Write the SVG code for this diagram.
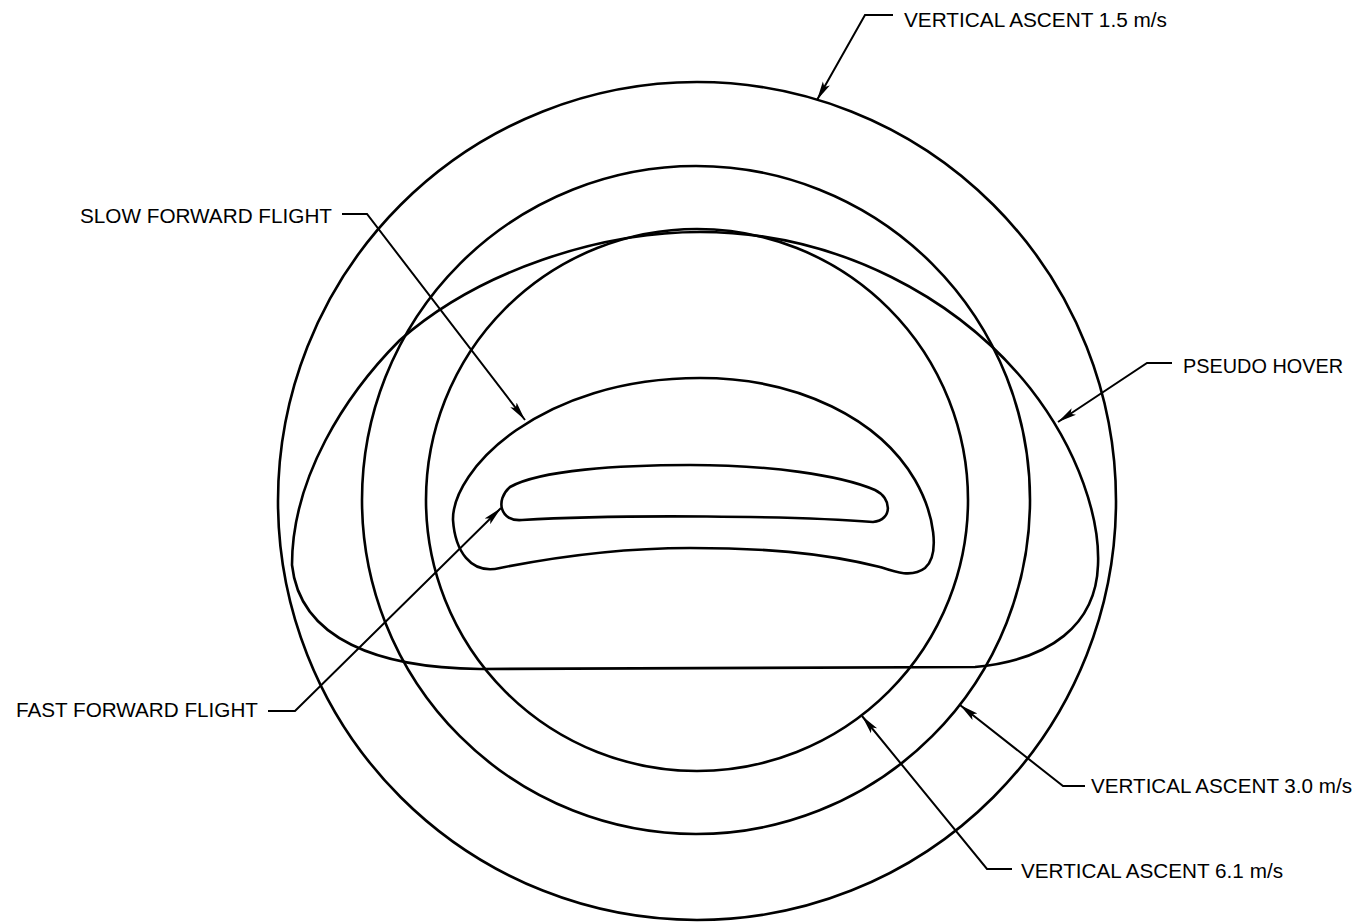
<svg xmlns="http://www.w3.org/2000/svg" width="1369" height="922" viewBox="0 0 1369 922">
<style>
.shape{fill:none;stroke:#000;stroke-width:2.6}
.lead{fill:none;stroke:#000;stroke-width:2}
.lbl{font-family:"Liberation Sans",Arial,sans-serif;font-size:20.5px;fill:#000}
</style>
<defs>
<marker id="ah" markerWidth="20" markerHeight="10" refX="19" refY="5" orient="auto" markerUnits="userSpaceOnUse">
<path d="M0,1 L19,5 L0,9 L4,5 Z" fill="#000"/>
</marker>
</defs>
<rect width="1369" height="922" fill="#fff"/>
<g id="ascent-1-5"><circle class="shape" cx="697" cy="501" r="419"/></g>
<g id="ascent-3-0"><circle class="shape" cx="696" cy="500" r="334"/></g>
<g id="ascent-6-1"><circle class="shape" cx="697" cy="500" r="271"/></g>
<g id="pseudo-hover"><path class="shape" d="M700 232 C840 232 960 300 1030 388 C1080 452 1100 520 1098 565 C1096 625 1050 660 975 667 L480 669 C380 668 300 640 292 565 C292 478 345 395 400 340 C480 270 600 232 700 232 Z"/></g>
<g id="slow-forward"><path class="shape" d="M700 378 C800 378 880 420 915 480 C935 515 940 555 925 568 C912 578 895 572 880 567 C820 552 760 548 690 548 C620 548 560 556 500 568 C470 575 455 550 453 520 C452 470 540 378 700 378 Z"/></g>
<g id="fast-forward"><path class="shape" d="M690 465 C770 465 840 475 875 490 C892 498 893 520 873 522 C800 516 620 514 522 520 C500 522 495 500 510 487 C540 470 620 465 690 465 Z"/></g>
<g id="connectors">
<path class="lead" marker-end="url(#ah)" d="M893 15 L865 15 L817 100"/>
<path class="lead" marker-end="url(#ah)" d="M342 214 L367 214 L525 420"/>
<path class="lead" marker-end="url(#ah)" d="M1172 363 L1147 363 L1058 422"/>
<path class="lead" marker-end="url(#ah)" d="M268 711 L295 711 L501 508"/>
<path class="lead" marker-end="url(#ah)" d="M1085 786 L1063 786 L960 705"/>
<path class="lead" marker-end="url(#ah)" d="M1012 869 L987 869 L862 716"/>
</g>
<g id="labels">
<text class="lbl" x="904" y="27" textLength="263" lengthAdjust="spacingAndGlyphs">VERTICAL ASCENT 1.5 m/s</text>
<text class="lbl" x="80" y="223" textLength="252" lengthAdjust="spacingAndGlyphs">SLOW FORWARD FLIGHT</text>
<text class="lbl" x="1183" y="373" textLength="160" lengthAdjust="spacingAndGlyphs">PSEUDO HOVER</text>
<text class="lbl" x="16" y="717" textLength="242" lengthAdjust="spacingAndGlyphs">FAST FORWARD FLIGHT</text>
<text class="lbl" x="1091" y="793" textLength="261" lengthAdjust="spacingAndGlyphs">VERTICAL ASCENT 3.0 m/s</text>
<text class="lbl" x="1021" y="878" textLength="262" lengthAdjust="spacingAndGlyphs">VERTICAL ASCENT 6.1 m/s</text>
</g>
</svg>
